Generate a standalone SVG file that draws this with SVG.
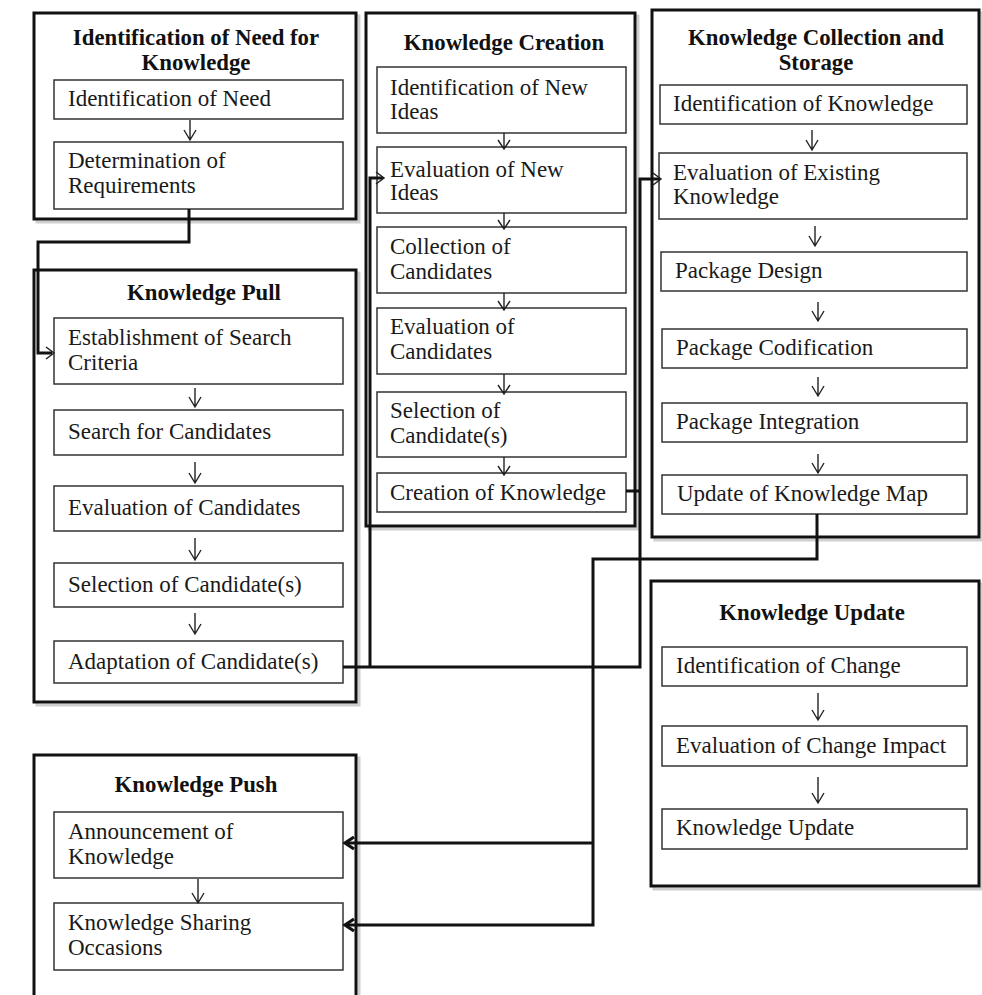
<svg xmlns="http://www.w3.org/2000/svg" width="982" height="995" viewBox="0 0 982 995">
<defs>
<style>
.outer{fill:#fff;stroke:#111;stroke-width:3}
.shadow{fill:none;stroke:#cfcfcf;stroke-width:3}
.inner{fill:#fff;stroke:#333;stroke-width:1.5}
.t{font-family:"Liberation Serif","Times New Roman",serif;font-size:23px;fill:#1a1a1a}
.h{font-family:"Liberation Serif","Times New Roman",serif;font-size:22.8px;font-weight:bold;fill:#111;text-anchor:middle}
.a{fill:none;stroke:#222;stroke-width:1.4}
.c{fill:none;stroke:#111;stroke-width:3}
.ch{fill:none;stroke:#222;stroke-width:1.5}
.ph{fill:none;stroke:#111;stroke-width:3.2;stroke-linejoin:miter}
</style>
</defs>
<rect width="982" height="995" fill="#fff"/>

<g id="need">
<rect class="shadow" x="37" y="16" width="322" height="206"/>
<rect class="outer" x="34" y="13" width="322" height="206"/>
<text class="h" x="196" y="45">Identification of Need for</text>
<text class="h" x="196" y="70">Knowledge</text>
<rect class="inner" x="54" y="80" width="289" height="39"/>
<text class="t" x="68" y="106">Identification of Need</text>
<rect class="inner" x="54" y="142" width="289" height="67"/>
<text class="t" x="68" y="168">Determination of</text>
<text class="t" x="68" y="193">Requirements</text>
<path class="a" d="M190,120 V140 M184,130 L190,140 L196,130"/>
</g>

<g id="pull">
<rect class="shadow" x="37" y="273" width="322" height="432"/>
<rect class="outer" x="34" y="270" width="322" height="432"/>
<text class="h" x="204" y="300">Knowledge Pull</text>
<rect class="inner" x="54" y="318" width="289" height="66"/>
<text class="t" x="68" y="345">Establishment of Search</text>
<text class="t" x="68" y="370">Criteria</text>
<rect class="inner" x="54" y="410" width="289" height="45"/>
<text class="t" x="68" y="439">Search for Candidates</text>
<rect class="inner" x="54" y="486" width="289" height="45"/>
<text class="t" x="68" y="515">Evaluation of Candidates</text>
<rect class="inner" x="54" y="563" width="289" height="44"/>
<text class="t" x="68" y="592">Selection of Candidate(s)</text>
<rect class="inner" x="54" y="641" width="289" height="42"/>
<text class="t" x="68" y="669">Adaptation of Candidate(s)</text>
<path class="a" d="M195,388 V407 M189,397 L195,407 L201,397"/>
<path class="a" d="M195,462 V483 M189,473 L195,483 L201,473"/>
<path class="a" d="M195,538 V560 M189,550 L195,560 L201,550"/>
<path class="a" d="M195,613 V634 M189,624 L195,634 L201,624"/>
</g>

<g id="creation">
<rect class="shadow" x="369" y="16" width="269" height="513"/>
<rect class="outer" x="366" y="13" width="269" height="513"/>
<text class="h" x="504" y="50">Knowledge Creation</text>
<rect class="inner" x="377" y="67" width="249" height="66"/>
<text class="t" x="390" y="95">Identification of New</text>
<text class="t" x="390" y="119">Ideas</text>
<rect class="inner" x="377" y="147" width="249" height="66"/>
<text class="t" x="390" y="177">Evaluation of New</text>
<text class="t" x="390" y="200">Ideas</text>
<rect class="inner" x="377" y="227" width="249" height="66"/>
<text class="t" x="390" y="254">Collection of</text>
<text class="t" x="390" y="279">Candidates</text>
<rect class="inner" x="377" y="308" width="249" height="66"/>
<text class="t" x="390" y="334">Evaluation of</text>
<text class="t" x="390" y="359">Candidates</text>
<rect class="inner" x="377" y="392" width="249" height="65"/>
<text class="t" x="390" y="418">Selection of</text>
<text class="t" x="390" y="443">Candidate(s)</text>
<rect class="inner" x="377" y="473" width="249" height="39"/>
<text class="t" x="390" y="500">Creation of Knowledge</text>
<path class="a" d="M504,133 V149 M498,140 L504,149 L510,140"/>
<path class="a" d="M504,213 V229 M498,220 L504,229 L510,220"/>
<path class="a" d="M504,293 V310 M498,301 L504,310 L510,301"/>
<path class="a" d="M504,374 V394 M498,385 L504,394 L510,385"/>
<path class="a" d="M504,457 V475 M498,466 L504,475 L510,466"/>
</g>

<g id="collection">
<rect class="shadow" x="655" y="13" width="327" height="527"/>
<rect class="outer" x="652" y="10" width="327" height="527"/>
<text class="h" x="816" y="45">Knowledge Collection and</text>
<text class="h" x="816" y="70">Storage</text>
<rect class="inner" x="660" y="85" width="307" height="39"/>
<text class="t" x="673" y="111">Identification of Knowledge</text>
<rect class="inner" x="659" y="153" width="308" height="66"/>
<text class="t" x="673" y="180">Evaluation of Existing</text>
<text class="t" x="673" y="204">Knowledge</text>
<rect class="inner" x="661" y="252" width="306" height="39"/>
<text class="t" x="675" y="278">Package Design</text>
<rect class="inner" x="662" y="329" width="305" height="39"/>
<text class="t" x="676" y="355">Package Codification</text>
<rect class="inner" x="662" y="403" width="305" height="39"/>
<text class="t" x="676" y="429">Package Integration</text>
<rect class="inner" x="662" y="475" width="305" height="39"/>
<text class="t" x="677" y="501">Update of Knowledge Map</text>
<path class="a" d="M812,130 V150 M806,140 L812,150 L818,140"/>
<path class="a" d="M815,226 V246 M809,236 L815,246 L821,236"/>
<path class="a" d="M818,302 V321 M812,311 L818,321 L824,311"/>
<path class="a" d="M818,377 V396 M812,386 L818,396 L824,386"/>
<path class="a" d="M818,454 V473 M812,463 L818,473 L824,463"/>
</g>

<g id="update">
<rect class="shadow" x="654" y="584" width="328" height="305"/>
<rect class="outer" x="651" y="581" width="328" height="305"/>
<text class="h" x="812" y="620">Knowledge Update</text>
<rect class="inner" x="662" y="647" width="305" height="39"/>
<text class="t" x="676" y="673">Identification of Change</text>
<rect class="inner" x="662" y="726" width="305" height="40"/>
<text class="t" x="676" y="753">Evaluation of Change Impact</text>
<rect class="inner" x="662" y="809" width="305" height="40"/>
<text class="t" x="676" y="835">Knowledge Update</text>
<path class="a" d="M818,693 V720 M812,710 L818,720 L824,710"/>
<path class="a" d="M818,777 V803 M812,793 L818,803 L824,793"/>
</g>

<g id="push">
<rect class="shadow" x="37" y="758" width="322" height="260"/>
<rect class="outer" x="34" y="755" width="322" height="260"/>
<text class="h" x="196" y="792">Knowledge Push</text>
<rect class="inner" x="54" y="812" width="289" height="66"/>
<text class="t" x="68" y="839">Announcement of</text>
<text class="t" x="68" y="864">Knowledge</text>
<rect class="inner" x="54" y="903" width="289" height="67"/>
<text class="t" x="68" y="930">Knowledge Sharing</text>
<text class="t" x="68" y="955">Occasions</text>
<path class="a" d="M198,879 V903 M192,893 L198,903 L204,893"/>
</g>

<g id="connectors">
<path class="c" d="M189,209 V242 H38 V353 H52"/>
<path class="ch" d="M46,347 L54,353 L46,359"/>
<path class="c" d="M343,667 H640 V179 H660"/>
<path class="ch" d="M653,173 L661,179 L653,185"/>
<path class="c" d="M370,667 V178 H383"/>
<path class="ch" d="M376,172 L384,178 L376,184"/>
<path class="c" d="M626,491 H640"/>
<path class="c" d="M817,514 V559 H593 V925 H346"/>
<path class="c" d="M593,843 H346"/>
<path class="ph" d="M354,837 L345,843 L354,849"/>
<path class="ph" d="M354,919 L345,925 L354,931"/>
</g>
</svg>
